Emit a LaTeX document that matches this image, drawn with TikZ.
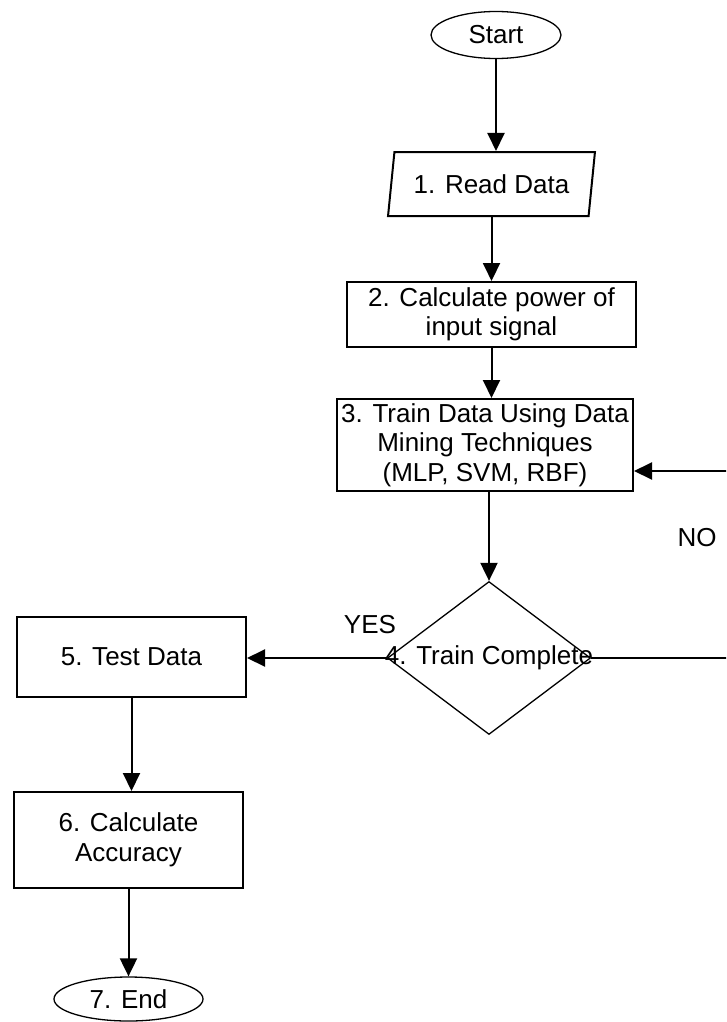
\documentclass[tikz,border=0pt]{standalone}
\usepackage{fontspec}
\setmainfont{Liberation Sans}
\usetikzlibrary{shapes.geometric,arrows.meta}
\begin{document}
\begin{tikzpicture}[x=1pt,y=-1pt,
  every node/.style={font=\fontsize{26}{29.5}\selectfont, text=black},
  boxnode/.style={draw, line width=2pt, rectangle, inner sep=0pt, align=center},
  termnode/.style={draw, line width=1.3pt, ellipse, inner sep=0pt},
  arr/.style={line width=2pt, -{Triangle[length=18pt,width=17pt]}}]
\clip (0,0) rectangle (726,1022);
% nodes
\node[termnode, minimum width=130pt, minimum height=47pt] (start) at (496,35) {Start};
\node[draw, line width=2pt, trapezium, trapezium left angle=75, trapezium right angle=105,
      trapezium stretches=true, minimum width=207pt, minimum height=64pt, inner sep=0pt]
      (read) at (491.5,184) {1. Read Data};
\node[boxnode, minimum width=289pt, minimum height=65pt] (b2) at (491.5,314.5)
      {2. Calculate power of\\input signal};
\node[boxnode, minimum width=296pt, minimum height=92pt] (b3) at (485,445)
      {3. Train Data Using Data\\Mining Techniques\\(MLP, SVM, RBF)};
\node[draw, line width=1.3pt, diamond, minimum width=203pt, minimum height=153pt, inner sep=0pt]
      (dia) at (489,658) {};
\node (t4) at (dia.center) {4. Train Complete};
\node[boxnode, minimum width=229pt, minimum height=80pt] (b5) at (131.5,657) {5. Test Data};
\node[boxnode, minimum width=229pt, minimum height=96pt] (b6) at (128.5,840)
      {6. Calculate\\Accuracy};
\node[termnode, minimum width=149pt, minimum height=44pt] (end) at (128.5,999) {7. End};
\node (yes) at (370,625) {YES};
\node (no) at (697,538) {NO};
\coordinate (r1) at (745,658);
\coordinate (r2) at (745,471);
% connectors
\draw[arr] (start.south) -- (start.south |- read.north);
\draw[arr] (read.south) -- (read.south |- b2.north);
\draw[arr] (b2.south) -- (b2.south |- b3.north);
\draw[arr] (dia.north |- b3.south) -- (dia.north);
\draw[arr] (dia.west) -- (b5.east |- dia.west);
\draw[arr] (dia.east) -- (r1) -- (r2) -- (b3.east |- r2);
\draw[arr] (b5.south) -- (b5.south |- b6.north);
\draw[arr] (b6.south) -- (b6.south |- end.north);
\end{tikzpicture}
\end{document}
